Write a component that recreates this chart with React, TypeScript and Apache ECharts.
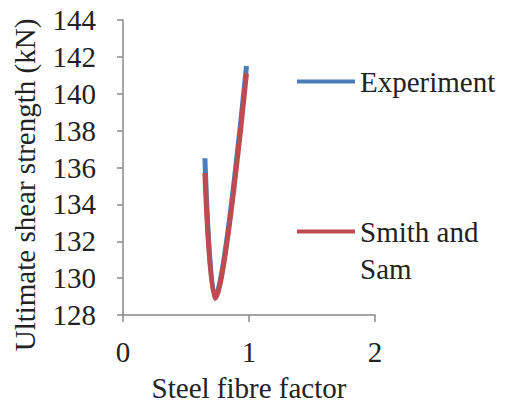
import React, { useEffect, useRef } from "react";
import * as echarts from "echarts";

const experimentX = [0.65, 0.73, 0.98];
const experimentY = [136.5, 129.0, 141.5];
const smithX = [0.65, 0.73, 0.98];
const smithY = [135.7, 128.9, 141.1];
const xTicks = [0, 1, 2];
const yTicks = [128, 130, 132, 134, 136, 138, 140, 142, 144];

const FONT = "Times New Roman, Liberation Serif, serif";
const TXT = { fontFamily: FONT, fontSize: 29, color: "#222" };

export default function App() {
  const ref = useRef<HTMLDivElement>(null);
  useEffect(() => {
    if (!ref.current) return;
    const chart = echarts.init(ref.current, undefined, { renderer: "svg" });
    const exp = experimentX.map((x, i) => [x, experimentY[i]]);
    const smi = smithX.map((x, i) => [x, smithY[i]]);
    chart.setOption({
      animation: false,
      backgroundColor: "#ffffff",
      textStyle: { fontFamily: FONT },
      grid: { left: 123, right: 136, top: 20, bottom: 93 },
      xAxis: {
        type: "value",
        min: xTicks[0],
        max: xTicks[xTicks.length - 1],
        interval: 1,
        name: "Steel fibre factor",
        nameLocation: "middle",
        nameGap: 58,
        nameTextStyle: TXT,
        axisLine: { show: true, lineStyle: { color: "#8a8a8a", width: 1.5 } },
        axisTick: { show: true, inside: false, length: 7, lineStyle: { color: "#8a8a8a", width: 1.5 } },
        axisLabel: { ...TXT, margin: 22 },
        splitLine: { show: false },
      },
      yAxis: {
        type: "value",
        min: yTicks[0],
        max: yTicks[yTicks.length - 1],
        interval: 2,
        axisLine: { show: true, lineStyle: { color: "#8a8a8a", width: 1.5 } },
        axisTick: { show: true, inside: false, length: 6, lineStyle: { color: "#8a8a8a", width: 1.5 } },
        axisLabel: { ...TXT, margin: 27 },
        splitLine: { show: false },
      },
      legend: [
        {
          data: ["Experiment"],
          left: 297,
          top: 67,
          padding: 0,
          icon: "rect",
          itemWidth: 58,
          itemHeight: 4,
          textStyle: TXT,
          selectedMode: false,
        },
        {
          data: ["Smith and Sam"],
          left: 297,
          top: 217,
          padding: 0,
          icon: "rect",
          itemWidth: 58,
          itemHeight: 4,
          formatter: () => "Smith and",
          textStyle: TXT,
          selectedMode: false,
        },
      ],
      graphic: [
        {
          type: "text",
          left: 360,
          top: 254,
          style: { text: "Sam", fontFamily: FONT, fontSize: 29, fill: "#222" },
        },
        {
          type: "text",
          x: 25,
          y: 185,
          rotation: Math.PI / 2,
          style: {
            text: "Ultimate shear strength (kN)",
            fontFamily: FONT,
            fontSize: 29,
            fill: "#222",
            align: "center",
            verticalAlign: "middle",
          },
        },
      ],
      series: [
        {
          name: "Experiment",
          type: "line",
          data: exp,
          smooth: 0.35,
          showSymbol: false,
          symbol: "none",
          lineStyle: { color: "#4a7ebb", width: 5 },
          itemStyle: { color: "#4a7ebb" },
          z: 2,
        },
        {
          name: "Smith and Sam",
          type: "line",
          data: smi,
          smooth: 0.35,
          showSymbol: false,
          symbol: "none",
          lineStyle: { color: "#be4b52", width: 5 },
          itemStyle: { color: "#be4b52" },
          z: 3,
        },
      ],
    });
    return () => chart.dispose();
  }, []);
  return (
    <div
      ref={ref}
      style={{ position: "fixed", left: 0, top: 0, width: 511, height: 408 }}
    />
  );
}
